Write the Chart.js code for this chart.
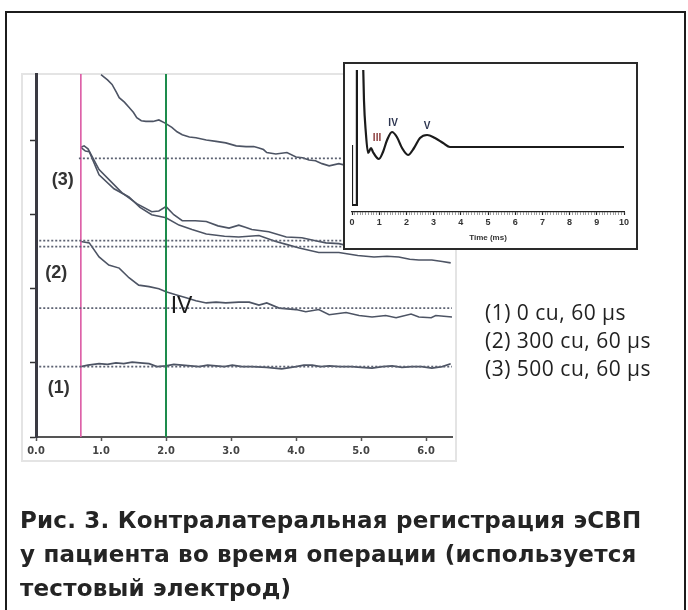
<!DOCTYPE html>
<html>
<head>
<meta charset="utf-8">
<script src="https://cdn.jsdelivr.net/npm/chart.js@4"></script>
<style>
body {margin: 0; background: #fff;}
#page {position: relative; width: 688px; height: 610px; overflow: hidden; background: #fff;}
#frame {position: absolute; left: 5px; top: 11px; width: 677px; height: 640px; border: 2px solid #1c1c1c;}
#plotbox {position: absolute; left: 21px; top: 73px; width: 432px; height: 385px; border: 2px solid #e4e4e4;}
#main {position: absolute; left: 0; top: 0;}
#inset {position: absolute; left: 343px; top: 62px; width: 291px; height: 184px; border: 2px solid #2a2a2a; background: #fff;}
#inset canvas {position: absolute; left: 0; top: 0;}
#legend {position: absolute; left: 485px; top: 298px; font: 21px "Open Sans", sans-serif; letter-spacing: 0.5px; line-height: 28px; color: #222;}
#caption {position: absolute; left: 20px; top: 503px; font: bold 23px "DejaVu Sans", sans-serif; letter-spacing: 0.2px; line-height: 34px; color: #242424;}
</style>
</head>
<body>
<div id="page">
	<div id="frame"></div>
	<div id="plotbox"></div>
	<canvas id="main" width="688" height="610"></canvas>
	<div id="inset"><canvas id="insetChart" width="291" height="184"></canvas></div>
	<div id="legend"></div>
	<div id="caption"></div>
</div>
<script>
//Main recording: time (ms) vs amplitude (arbitrary units, one per y tick)
const xTickMax = 6.4;
const yMax = 4.9;
const markerTimes = [0.69, 2.0]; //pink = stimulus, green = wave IV
const traceTop = [[1.00,4.89],[1.10,4.82],[1.17,4.76],[1.24,4.65],[1.28,4.58],[1.36,4.52],[1.43,4.45],[1.50,4.38],[1.55,4.31],[1.62,4.27],[1.69,4.26],[1.80,4.26],[1.89,4.28],[1.98,4.24],[2.09,4.18],[2.17,4.12],[2.25,4.08],[2.36,4.05],[2.46,4.04],[2.62,4.01],[2.77,3.99],[2.92,3.97],[3.08,3.93],[3.23,3.92],[3.35,3.92],[3.43,3.90],[3.50,3.88],[3.55,3.84],[3.69,3.82],[3.86,3.84],[4.00,3.78],[4.10,3.77],[4.20,3.74],[4.30,3.73],[4.40,3.69],[4.51,3.66],[4.66,3.69],[4.80,3.66]];
const trace3a = [[0.69,3.91],[0.74,3.93],[0.80,3.89],[0.97,3.61],[1.15,3.45],[1.32,3.30],[1.55,3.15],[1.78,3.04],[1.89,3.05],[2.00,3.11],[2.12,3.00],[2.25,2.92],[2.45,2.92],[2.62,2.91],[2.80,2.85],[2.97,2.82],[3.12,2.86],[3.22,2.83],[3.32,2.80],[3.58,2.77],[3.85,2.70],[4.09,2.69],[4.30,2.65],[4.46,2.62],[4.66,2.61],[4.80,2.58]];
const trace3b = [[0.69,3.91],[0.76,3.86],[0.82,3.85],[0.97,3.54],[1.20,3.35],[1.43,3.24],[1.60,3.10],[1.78,3.00],[2.00,2.96],[2.20,2.86],[2.40,2.80],[2.62,2.74],[2.90,2.71],[3.12,2.70],[3.43,2.72],[3.69,2.64],[3.85,2.60],[4.05,2.55],[4.20,2.52],[4.35,2.49],[4.66,2.49],[4.95,2.45],[5.20,2.43],[5.40,2.44],[5.58,2.43],[5.75,2.40],[5.89,2.39],[6.09,2.39],[6.25,2.37],[6.38,2.35]];
const trace2 = [[0.69,2.64],[0.82,2.62],[0.97,2.43],[1.12,2.32],[1.28,2.28],[1.43,2.15],[1.58,2.05],[1.74,2.03],[1.89,2.00],[2.00,1.96],[2.15,1.92],[2.31,1.88],[2.46,1.84],[2.62,1.81],[2.77,1.82],[2.92,1.81],[3.12,1.82],[3.28,1.82],[3.43,1.78],[3.55,1.81],[3.74,1.74],[4.00,1.72],[4.15,1.69],[4.35,1.72],[4.51,1.65],[4.77,1.68],[4.97,1.64],[5.17,1.62],[5.38,1.64],[5.54,1.61],[5.77,1.66],[5.89,1.62],[6.08,1.61],[6.15,1.64],[6.40,1.62]];
const trace1 = [[0.69,0.95],[0.80,0.97],[0.97,0.99],[1.10,0.98],[1.23,1.00],[1.35,0.99],[1.48,1.01],[1.60,1.00],[1.74,0.99],[1.86,0.95],[2.00,0.96],[2.12,0.98],[2.25,0.97],[2.38,0.96],[2.51,0.95],[2.64,0.97],[2.77,0.96],[2.90,0.95],[3.02,0.97],[3.17,0.95],[3.32,0.95],[3.55,0.94],[3.78,0.92],[4.00,0.95],[4.12,0.97],[4.25,0.97],[4.38,0.95],[4.51,0.96],[4.68,0.95],[4.86,0.95],[5.00,0.94],[5.17,0.93],[5.33,0.95],[5.48,0.96],[5.63,0.94],[5.78,0.95],[5.93,0.95],[6.09,0.93],[6.25,0.95],[6.38,0.99]];
//Dotted baselines: level, start time, end time
const baselineLevels = [0.95, 1.74, 2.57, 2.65, 3.76];
const baselineStart = [0.05, 0.05, 0.05, 0.05, 0.66];
const baselineEnd = [6.4, 6.4, 4.72, 4.72, 4.72];
const traceNames = ["(1)", "(2)", "(3)"];
const traceNamePos = [[0.35, 0.66], [0.31, 2.21], [0.41, 3.47]];
const waveIVPos = [2.24, 1.76];

//Inset: idealised ABR template
const insetXMax = 10;
const insetYMax = 14.2;
const stimArtifact = [[0.0,6.7],[0.0,0.7],[0.18,0.7],[0.18,16]];
const abrWave = [[0.40,16],[0.44,11.2],[0.51,7.9],[0.59,5.9],[0.70,6.4],[0.77,6.0],[0.99,5.3],[1.14,6.0],[1.29,7.2],[1.47,8.0],[1.65,7.5],[1.84,6.4],[2.06,5.7],[2.28,6.4],[2.50,7.4],[2.76,7.7],[3.05,7.4],[3.35,6.9],[3.60,6.5],[10,6.5]];
const peakNames = ["III", "IV", "V"];
const peakPos = [[0.92, 7.4], [1.51, 8.9], [2.76, 8.6]];

const legendLines = ["(1) 0 cu, 60 µs", "(2) 300 cu, 60 µs", "(3) 500 cu, 60 µs"];
const captionLines = ["Рис. 3. Контралатеральная регистрация эСВП", "у пациента во время операции (используется", "тестовый электрод)"];

const pts = arr => arr.map(([x, y]) => ({x, y}));

//Draws free text at data coordinates
const textLabels = {
	id: "textLabels",
	afterDatasetsDraw(chart, args, opts) {
		const {ctx, scales: {x, y}} = chart;
		ctx.save();
		ctx.textAlign = "center"; ctx.textBaseline = "middle";
		(opts.items || []).forEach(it => {
			ctx.font = it.font; ctx.fillStyle = it.color;
			ctx.fillText(it.text, x.getPixelForValue(it.x), y.getPixelForValue(it.y));
		});
		ctx.restore();
	},
};

const traceStyle = {borderColor: "#4d5464", borderWidth: 1.6, pointRadius: 0, tension: 0};
const datasets = [
	...baselineLevels.map((lv, i) => ({
		data: [{x: baselineStart[i], y: lv}, {x: baselineEnd[i], y: lv}],
		borderColor: "#5c6272", borderWidth: 1.8, borderDash: [2, 2], pointRadius: 0,
	})),
	...markerTimes.map((t, i) => ({
		data: [{x: t, y: 0}, {x: t, y: yMax}],
		borderColor: i ? "#1d8c4c" : "#dc5aa4", borderWidth: i ? 2 : 1.6, pointRadius: 0,
	})),
	...[traceTop, trace3a, trace3b, trace2, trace1].map(tr => ({data: pts(tr), ...traceStyle})),
];

new Chart(document.getElementById("main"), {
	type: "line",
	data: {datasets},
	plugins: [textLabels],
	options: {
		responsive: false, animation: false,
		layout: {padding: {left: 30, top: 74, right: 236, bottom: 149}},
		plugins: {
			legend: {display: false}, tooltip: {enabled: false},
			textLabels: {items: [
				...traceNames.map((t, i) => ({text: t, x: traceNamePos[i][0], y: traceNamePos[i][1], font: "bold 18px 'Liberation Sans', Arial, sans-serif", color: "#333"})),
				{text: "IV", x: waveIVPos[0], y: waveIVPos[1], font: "23px 'Liberation Sans', Arial, sans-serif", color: "#1a1a1a"},
			]},
		},
		scales: {
			x: {
				type: "linear", min: 0, max: xTickMax,
				afterFit: s => {s.height = 24;},
				ticks: {stepSize: 1, includeBounds: false, maxRotation: 0, padding: 4, color: "#444",
					font: {family: "'Liberation Sans Narrow', 'DejaVu Sans Condensed', sans-serif", size: 11, weight: "bold"},
					callback: v => v.toFixed(1)},
				grid: {drawOnChartArea: false, tickLength: 4, tickColor: "#555", tickWidth: 1.5},
				border: {color: "#555", width: 2},
			},
			y: {
				min: 0, max: yMax,
				afterFit: s => {s.width = 6;},
				ticks: {display: false, stepSize: 1, includeBounds: false},
				grid: {drawOnChartArea: false, tickLength: 6, tickColor: "#333", tickWidth: 1.5},
				border: {color: "#3a3a42", width: 3},
			},
		},
	},
});

const isWhole = v => Math.abs(v - Math.round(v)) < 1e-6;
new Chart(document.getElementById("insetChart"), {
	type: "line",
	data: {datasets: [
		{data: pts(stimArtifact), borderColor: "#1b1b1b", borderWidth: 2.2, pointRadius: 0, tension: 0},
		{data: pts(abrWave), borderColor: "#1b1b1b", borderWidth: 2.2, pointRadius: 0, cubicInterpolationMode: "monotone"},
	]},
	plugins: [textLabels],
	options: {
		responsive: false, animation: false,
		layout: {padding: {left: 7, right: 12, top: 6, bottom: 0}},
		plugins: {
			legend: {display: false}, tooltip: {enabled: false},
			textLabels: {items: peakNames.map((t, i) => ({
				text: t, x: peakPos[i][0], y: peakPos[i][1],
				font: "bold 10px 'Liberation Sans', Arial, sans-serif", color: i ? "#2d3550" : "#8a3b3b",
			}))},
		},
		scales: {
			x: {
				type: "linear", min: 0, max: insetXMax,
				afterFit: s => {s.height = 36;},
				ticks: {stepSize: 0.1, autoSkip: false, maxRotation: 0, includeBounds: false, padding: 2, color: "#333",
					font: {family: "'Liberation Sans', Arial, sans-serif", size: 9, weight: "bold"},
					callback: v => isWhole(v) ? String(Math.round(v)) : ""},
				grid: {drawOnChartArea: false, tickLength: 3,
					tickColor: c => isWhole(c.tick.value) ? "#222" : "#777",
					tickWidth: c => isWhole(c.tick.value) ? 1.2 : 0.7},
				border: {color: "#222", width: 1.2},
				title: {display: true, text: "Time (ms)", color: "#333", padding: {top: 0, bottom: 5},
					font: {family: "'Liberation Sans', Arial, sans-serif", size: 8, weight: "bold"}},
			},
			y: {display: false, min: 0, max: insetYMax},
		},
	},
});

document.getElementById("legend").innerHTML = legendLines.map(l => "<div>" + l + "</div>").join("");
document.getElementById("caption").innerHTML = captionLines.map(l => "<div>" + l + "</div>").join("");
</script>
</body>
</html>
